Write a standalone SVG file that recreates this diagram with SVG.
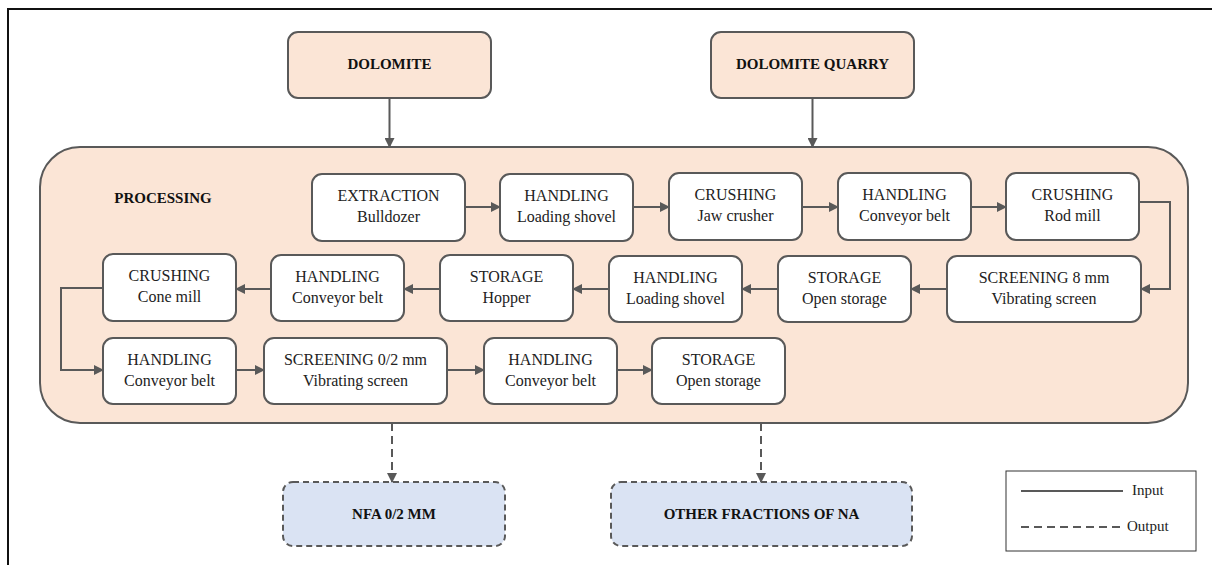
<svg xmlns="http://www.w3.org/2000/svg" width="1212" height="565" viewBox="0 0 1212 565">
  <defs>
    <marker id="arrow" viewBox="0 0 10 10" refX="9" refY="5" markerWidth="10" markerHeight="10" markerUnits="userSpaceOnUse" orient="auto">
      <path d="M0,0 L10,5 L0,10 Z" fill="#595959"/>
    </marker>
    <style>
      .frame { fill: none; stroke: #111; stroke-width: 2; }
      .src { fill: #FBE5D6; stroke: #595959; stroke-width: 2; }
      .proc { fill: #FBE5D6; stroke: #595959; stroke-width: 2; }
      .step { fill: #FFFFFF; stroke: #595959; stroke-width: 2; }
      .out { fill: #DAE3F3; stroke: #595959; stroke-width: 2; stroke-dasharray: 6 4; }
      text { font-family: 'Liberation Serif', 'DejaVu Serif', serif; }
      .title { font-size: 15px; font-weight: bold; fill: #111; text-anchor: middle; }
      .label { font-size: 16px; fill: #222; text-anchor: middle; }
      .legend-text { font-size: 15px; fill: #222; }
      .link { fill: none; stroke: #595959; stroke-width: 2; marker-end: url(#arrow); }
      .link-out { fill: none; stroke: #595959; stroke-width: 2; stroke-dasharray: 8 5; marker-end: url(#arrow); }
    </style>
  </defs>

  <!-- page frame (left and top edges) -->
  <path class="frame" d="M8,565 V9 H1212"/>

  <!-- source nodes -->
  <g id="dolomite">
    <rect class="src" x="288" y="32" width="203" height="66" rx="10"/>
    <text class="title" x="389.5" y="69">DOLOMITE</text>
  </g>
  <g id="dolomite-quarry">
    <rect class="src" x="711" y="32" width="203" height="66" rx="10"/>
    <text class="title" x="812.5" y="69">DOLOMITE QUARRY</text>
  </g>

  <!-- processing container -->
  <g id="processing">
    <rect class="proc" x="40" y="147" width="1148" height="276" rx="40"/>
    <text class="title" x="163" y="203">PROCESSING</text>
  </g>

  <!-- row 1 -->
  <g id="extraction">
    <rect class="step" x="312" y="174" width="153" height="67" rx="10"/>
    <text class="label" x="388.5" y="201">EXTRACTION</text>
    <text class="label" x="388.5" y="222">Bulldozer</text>
  </g>
  <g id="handling-1">
    <rect class="step" x="500" y="174" width="133" height="67" rx="10"/>
    <text class="label" x="566.5" y="201">HANDLING</text>
    <text class="label" x="566.5" y="222">Loading shovel</text>
  </g>
  <g id="crushing-jaw">
    <rect class="step" x="669" y="173" width="133" height="67" rx="10"/>
    <text class="label" x="735.5" y="200">CRUSHING</text>
    <text class="label" x="735.5" y="221">Jaw crusher</text>
  </g>
  <g id="handling-2">
    <rect class="step" x="838" y="173" width="133" height="67" rx="10"/>
    <text class="label" x="904.5" y="200">HANDLING</text>
    <text class="label" x="904.5" y="221">Conveyor belt</text>
  </g>
  <g id="crushing-rod">
    <rect class="step" x="1006" y="173" width="133" height="67" rx="10"/>
    <text class="label" x="1072.5" y="200">CRUSHING</text>
    <text class="label" x="1072.5" y="221">Rod mill</text>
  </g>

  <!-- row 2 -->
  <g id="screening-8">
    <rect class="step" x="947" y="256" width="194" height="66" rx="10"/>
    <text class="label" x="1044" y="283">SCREENING 8 mm</text>
    <text class="label" x="1044" y="304">Vibrating screen</text>
  </g>
  <g id="storage-1">
    <rect class="step" x="778" y="256" width="133" height="66" rx="10"/>
    <text class="label" x="844.5" y="283">STORAGE</text>
    <text class="label" x="844.5" y="304">Open storage</text>
  </g>
  <g id="handling-3">
    <rect class="step" x="609" y="256" width="133" height="66" rx="10"/>
    <text class="label" x="675.5" y="283">HANDLING</text>
    <text class="label" x="675.5" y="304">Loading shovel</text>
  </g>
  <g id="storage-hopper">
    <rect class="step" x="440" y="255" width="133" height="66" rx="10"/>
    <text class="label" x="506.5" y="282">STORAGE</text>
    <text class="label" x="506.5" y="303">Hopper</text>
  </g>
  <g id="handling-4">
    <rect class="step" x="271" y="255" width="133" height="66" rx="10"/>
    <text class="label" x="337.5" y="282">HANDLING</text>
    <text class="label" x="337.5" y="303">Conveyor belt</text>
  </g>
  <g id="crushing-cone">
    <rect class="step" x="103" y="254" width="133" height="67" rx="10"/>
    <text class="label" x="169.5" y="281">CRUSHING</text>
    <text class="label" x="169.5" y="302">Cone mill</text>
  </g>

  <!-- row 3 -->
  <g id="handling-5">
    <rect class="step" x="103" y="338" width="133" height="66" rx="10"/>
    <text class="label" x="169.5" y="365">HANDLING</text>
    <text class="label" x="169.5" y="386">Conveyor belt</text>
  </g>
  <g id="screening-02">
    <rect class="step" x="264" y="338" width="183" height="66" rx="10"/>
    <text class="label" x="355.5" y="365">SCREENING 0/2 mm</text>
    <text class="label" x="355.5" y="386">Vibrating screen</text>
  </g>
  <g id="handling-6">
    <rect class="step" x="484" y="338" width="133" height="66" rx="10"/>
    <text class="label" x="550.5" y="365">HANDLING</text>
    <text class="label" x="550.5" y="386">Conveyor belt</text>
  </g>
  <g id="storage-2">
    <rect class="step" x="652" y="338" width="133" height="66" rx="10"/>
    <text class="label" x="718.5" y="365">STORAGE</text>
    <text class="label" x="718.5" y="386">Open storage</text>
  </g>

  <!-- outputs -->
  <g id="nfa">
    <rect class="out" x="283" y="482" width="222" height="64" rx="10"/>
    <text class="title" x="394" y="519">NFA 0/2 MM</text>
  </g>
  <g id="other-fractions">
    <rect class="out" x="611" y="482" width="301" height="64" rx="10"/>
    <text class="title" x="761.5" y="519">OTHER FRACTIONS OF NA</text>
  </g>

  <!-- connectors -->
  <g id="connectors">
    <path class="link" d="M389.5,98 V147"/>
    <path class="link" d="M812.5,98 V147"/>

    <path class="link" d="M465,207 H500"/>
    <path class="link" d="M633,207 H669"/>
    <path class="link" d="M802,207 H838"/>
    <path class="link" d="M971,207 H1006"/>
    <path class="link" d="M1139,202 H1170 V289 H1141"/>

    <path class="link" d="M947,289 H911"/>
    <path class="link" d="M778,289 H742"/>
    <path class="link" d="M609,289 H573"/>
    <path class="link" d="M440,289 H404"/>
    <path class="link" d="M271,289 H236"/>
    <path class="link" d="M103,288 H61 V370 H103"/>

    <path class="link" d="M236,370 H264"/>
    <path class="link" d="M447,370 H484"/>
    <path class="link" d="M617,370 H652"/>

    <path class="link-out" d="M392,423 V482"/>
    <path class="link-out" d="M761,423 V482"/>
  </g>

  <!-- legend -->
  <g id="legend">
    <rect x="1006" y="471" width="190" height="80" fill="#FFFFFF" stroke="#333" stroke-width="1"/>
    <line x1="1021" y1="491" x2="1123" y2="491" stroke="#595959" stroke-width="2"/>
    <line x1="1021" y1="527" x2="1123" y2="527" stroke="#595959" stroke-width="2" stroke-dasharray="8 5"/>
    <text class="legend-text" x="1132" y="495">Input</text>
    <text class="legend-text" x="1127" y="531">Output</text>
  </g>
</svg>
